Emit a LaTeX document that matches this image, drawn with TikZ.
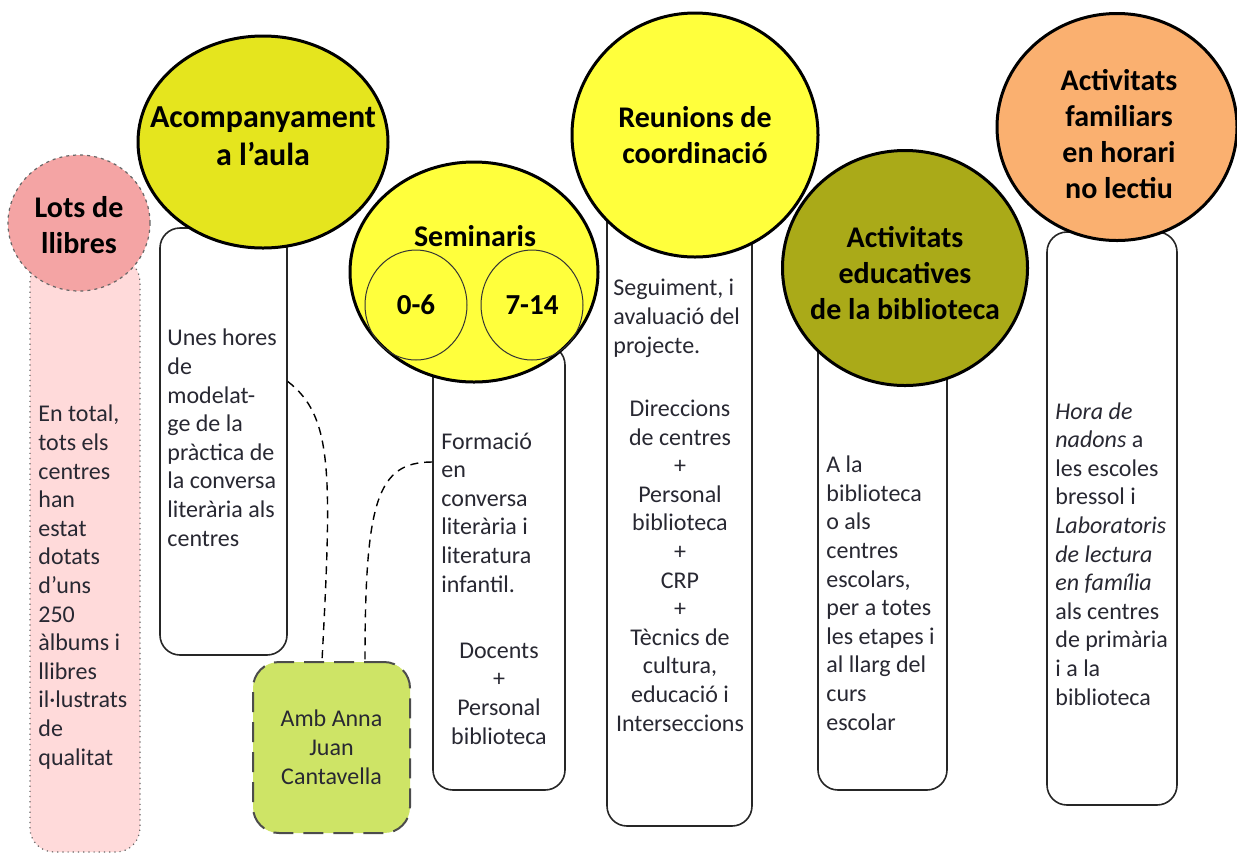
\documentclass[tikz,border=0pt]{standalone}
\usepackage{fontspec}
\setmainfont{Carlito}
\usetikzlibrary{shapes.geometric}
\definecolor{pinkc}{RGB}{244,164,164}
\definecolor{pinklight}{RGB}{255,218,218}
\definecolor{yelA}{RGB}{229,229,30}
\definecolor{yelB}{RGB}{255,255,60}
\definecolor{olivec}{RGB}{170,170,24}
\definecolor{orangec}{RGB}{250,176,112}
\definecolor{greenc}{RGB}{206,228,102}
\definecolor{txt}{RGB}{40,40,50}
\begin{document}
\begin{tikzpicture}[x=0.5pt,y=-0.5pt,
  title/.style={font=\fontsize{15}{18}\selectfont\bfseries, align=center, text=black, inner sep=0pt},
  bubble/.style={ellipse, draw=black, line width=1.5pt, inner sep=0pt},
  inner/.style={ellipse, draw=black!80, line width=0.5pt, inner sep=0pt, minimum width=51pt, minimum height=55pt, font=\fontsize{14.5}{17}\selectfont\bfseries},
  wbox/.style={rectangle, draw=black!85, line width=0.8pt, rounded corners=10pt, fill=white, inner sep=0pt},
  pinkbox/.style={rectangle, draw=black!60, dotted, line width=0.6pt, fill=pinklight, rounded corners=12pt, inner sep=0pt},
  greenbox/.style={rectangle, draw=black!70, dash pattern=on 10pt off 5pt, line width=1pt, fill=greenc, rounded corners=13pt, inner sep=0pt, align=center, font=\fontsize{12}{14.6}\selectfont, text=txt},
  body/.style={font=\fontsize{12}{14.3}\selectfont, text=txt, inner sep=0pt, align=left, anchor=base west},
  bodyc/.style={body, align=center, anchor=base},
  conn/.style={draw=black, line width=0.7pt, dash pattern=on 4pt off 3pt}
]
\useasboundingbox (0,0) rectangle (1237,853);

% Lots de llibres
\node[pinkbox, minimum width=55pt, minimum height=297pt] (pr) at (85,555) {};
\node[bubble, fill=pinkc, draw=black!60, dotted, line width=0.6pt, minimum width=71pt, minimum height=68pt] (lots) at (79,223) {};
\node[title] (lotsT) at (79,225) {Lots de\\llibres};
\node[body] (tlots) at (38,765) {En total,\\tots els\\centres\\han\\estat\\dotats\\d’uns\\250\\àlbums i\\llibres\\il·lustrats\\de\\qualitat};

% Acompanyament
\node[wbox, minimum width=63.5pt, minimum height=213.5pt] (r1) at (223.5,441.5) {};
\node[bubble, fill=yelA, minimum width=125pt, minimum height=106pt] (acomp) at (263,142) {};
\node[title, font=\fontsize{16}{19}\selectfont\bfseries] (acompT) at (263,136) {Acompanyament\\a l’aula};
\node[body] (t1) at (167,546) {Unes hores\\de\\modelat-\\ge de la\\pràctica de\\la conversa\\literària als\\centres};

% Seminaris
\node[wbox, minimum width=66pt, minimum height=222.5pt] (r2) at (499,567.5) {};
\node[bubble, fill=yelB, minimum width=124pt, minimum height=110pt] (sem) at (474,272) {};
\node[title] (semT) at (475,236) {Seminaris};
\node[inner] (c06) at (416,305) {0-6};
\node[inner] (c714) at (532,305) {7-14};
\node[body] (t2a) at (441,592) {Formació\\en\\conversa\\literària i\\literatura\\infantil.};
\node[bodyc] (t2b) at (499,744) {Docents\\+\\Personal\\biblioteca};

% Amb Anna Juan Cantavella
\node[greenbox, minimum width=78.5pt, minimum height=85.5pt] (green) at (331.5,747.5) {Amb Anna\\Juan\\Cantavella};
\draw[conn] ([yshift=30pt]r1.east) .. controls +(45,35) and +(10,-190) .. ([xshift=-4.75pt]green.north);
\draw[conn] ([yshift=52.75pt]r2.west) .. controls +(-55,0) and +(0,-160) .. ([xshift=16.75pt]green.north);

% Reunions
\node[wbox, minimum width=72.5pt, minimum height=320.5pt] (r3) at (679.5,505.5) {};
\node[bubble, fill=yelB, minimum width=123pt, minimum height=122pt] (reu) at (695,135) {};
\node[title] (reuT) at (695,135) {Reunions de\\coordinació};
\node[body] (t3a) at (613,353) {Seguiment, i\\avaluació del\\projecte.};
\node[bodyc] (t3b) at (680,731) {Direccions\\de centres\\+\\Personal\\biblioteca\\+\\CRP\\+\\Tècnics de\\cultura,\\educació i\\Interseccions};

% Activitats educatives
\node[wbox, minimum width=64.5pt, minimum height=245pt] (r4) at (882.5,545) {};
\node[bubble, fill=olivec, minimum width=122.5pt, minimum height=117.5pt] (oli) at (905,268) {};
\node[title] (oliT) at (905,273) {Activitats\\educatives\\de la biblioteca};
\node[body] (t4) at (826,730) {A la\\biblioteca\\o als\\centres\\escolars,\\per a totes\\les etapes i\\al llarg del\\curs\\escolar};

% Activitats familiars
\node[wbox, minimum width=65pt, minimum height=286.5pt] (r5) at (1112,518.5) {};
\node[bubble, fill=orangec, minimum width=120pt, minimum height=113.5pt] (ora) at (1117,127) {};
\node[title] (oraT) at (1119,134) {Activitats\\familiars\\en horari\\no lectiu};
\node[body] (t5) at (1055,705) {\textit{Hora de}\\\textit{nadons} a\\les escoles\\bressol i\\\textit{Laboratoris}\\\textit{de lectura}\\\textit{en família}\\als centres\\de primària\\i a la\\biblioteca};
\end{tikzpicture}
\end{document}
